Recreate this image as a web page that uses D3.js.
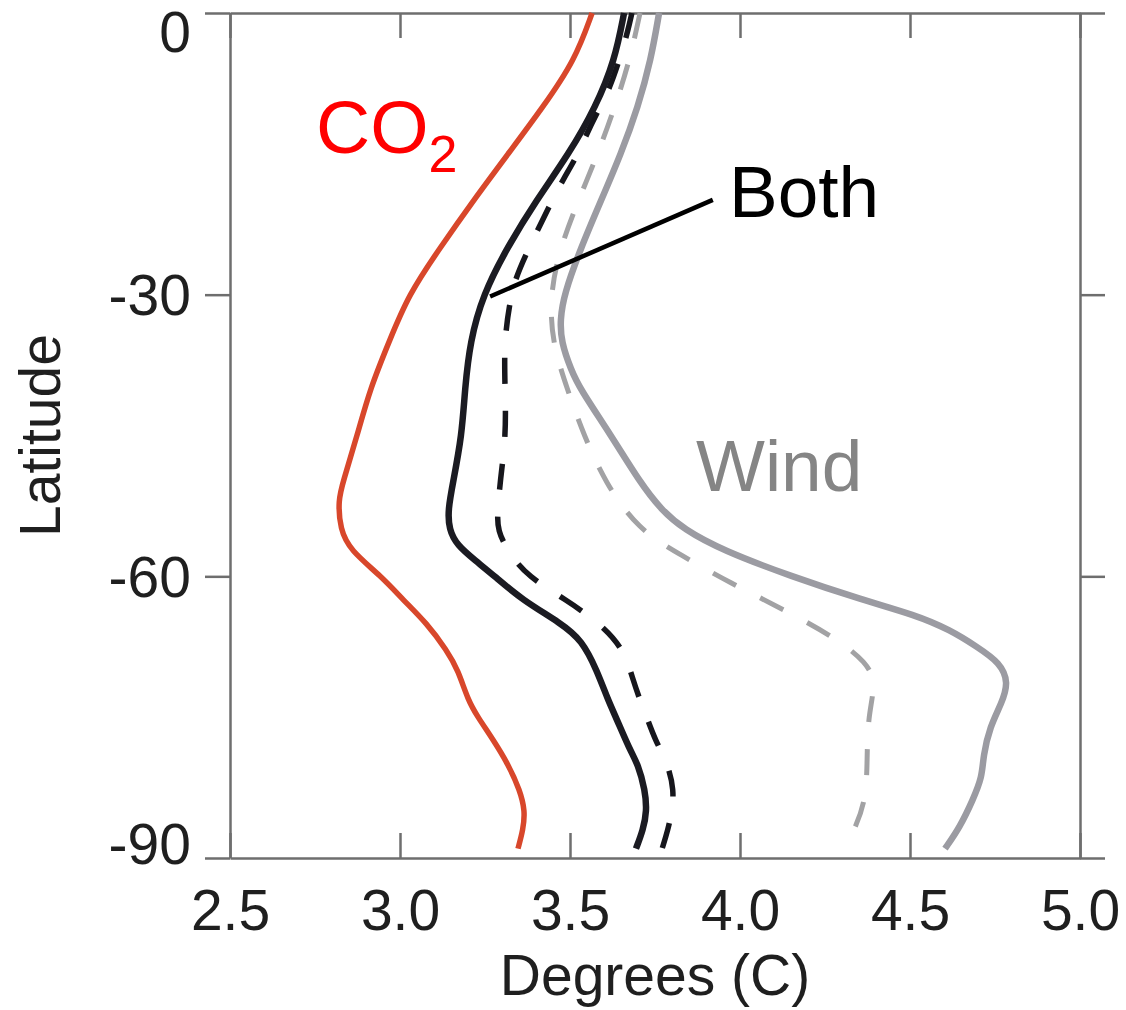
<!DOCTYPE html>
<html>
<head>
<meta charset="utf-8">
<script src="https://cdn.jsdelivr.net/npm/d3@7"></script>
<style>
  html, body { margin: 0; padding: 0; background: #ffffff; }
  svg { display: block; font-family: "Liberation Sans", Arial, Helvetica, sans-serif; }
</style>
</head>
<body>
<svg id="chart" width="1126" height="1010"></svg>
<script>
// Zonal-mean warming profiles (degrees C) against latitude.
const latTicks  = [0, -30, -60, -90];
const tempTicks = [2.5, 3.0, 3.5, 4.0, 4.5, 5.0];

// CO2 forcing only
const co2Lat  = [0, -5, -10, -15, -20, -25, -30, -35, -40, -45, -50, -51.9, -55, -57.2, -60, -62.5, -65, -67.9, -70, -73.2, -75, -77.4, -80, -82.8, -85, -87, -89];
const co2Temp = [3.565, 3.515, 3.421, 3.318, 3.215, 3.118, 3.025, 2.968, 2.912, 2.874, 2.832, 2.818, 2.824, 2.853, 2.945, 3.009, 3.079, 3.138, 3.171, 3.200, 3.229, 3.274, 3.318, 3.353, 3.368, 3.362, 3.347];

// Both forcings, solid and dashed runs
const bothLat  = [0, -5, -10, -15, -20, -25, -30, -35, -40, -45, -50, -52.9, -55, -56.7, -58.3, -60, -62.5, -65, -66.8, -70, -73.2, -75, -78.5, -80, -82.8, -85, -87, -89];
const bothTemp = [3.659, 3.632, 3.576, 3.497, 3.400, 3.315, 3.244, 3.206, 3.191, 3.182, 3.156, 3.141, 3.144, 3.168, 3.221, 3.279, 3.359, 3.474, 3.535, 3.579, 3.612, 3.635, 3.676, 3.700, 3.721, 3.726, 3.715, 3.694];

const bothAltLat  = [0, -1.8, -4.5, -8.2, -10, -13.5, -15, -17.8, -20, -25, -28.4, -30.6, -35, -40, -45, -50, -52.9, -55.1, -57.7, -60, -62.5, -65, -67.8, -71, -73.2, -75, -77.4, -80, -82.8, -85, -87, -89];
const bothAltTemp = [3.682, 3.671, 3.650, 3.615, 3.588, 3.541, 3.524, 3.479, 3.447, 3.379, 3.338, 3.324, 3.306, 3.309, 3.312, 3.294, 3.288, 3.285, 3.324, 3.376, 3.488, 3.588, 3.659, 3.685, 3.706, 3.726, 3.750, 3.788, 3.806, 3.800, 3.788, 3.771];

// Wind forcing only, solid and dashed runs
const windLat  = [0, -5, -10, -15, -20, -25, -30, -32.7, -35, -38, -40, -45, -50, -52.9, -55, -57.2, -60, -62.5, -64.1, -65.7, -67.5, -69.2, -71.3, -73.5, -76, -79.2, -81.4, -83.8, -86.7, -89];
const windTemp = [3.762, 3.738, 3.700, 3.650, 3.591, 3.532, 3.482, 3.471, 3.474, 3.503, 3.529, 3.621, 3.706, 3.768, 3.835, 3.947, 4.150, 4.359, 4.515, 4.618, 4.697, 4.765, 4.790, 4.770, 4.735, 4.715, 4.712, 4.685, 4.647, 4.603];

const windAltLat  = [0, -5, -10, -15, -20, -25, -30, -35, -40, -45, -50, -55, -57.7, -60.7, -63.6, -66.5, -69.2, -71.4, -75, -79.6, -83.6, -86.7, -89];
const windAltTemp = [3.706, 3.676, 3.632, 3.582, 3.524, 3.471, 3.441, 3.447, 3.491, 3.541, 3.603, 3.700, 3.824, 3.971, 4.132, 4.279, 4.374, 4.400, 4.376, 4.374, 4.371, 4.341, 4.306];

const svg = d3.select("#chart");
const plotLeft = 230, plotRight = 1080, plotTop = 13, plotBottom = 858;

const x = d3.scaleLinear().domain([2.5, 5.0]).range([plotLeft, plotRight]);
const y = d3.scaleLinear().domain([0, -90]).range([plotTop, plotBottom]);

const frameColor = "#6e6e6e";
const textColor = "#1f1f1f";

// plain hyphen-minus for negative latitudes
const latFormat = d => String(d);

// Axes: outward latitude ticks on both sides, inward temperature ticks top and bottom
const gLeft = svg.append("g").attr("transform", `translate(${plotLeft},0)`)
  .call(d3.axisLeft(y).tickValues(latTicks).tickSizeInner(25).tickSizeOuter(0).tickPadding(14).tickFormat(latFormat));
const gRight = svg.append("g").attr("transform", `translate(${plotRight},0)`)
  .call(d3.axisRight(y).tickValues(latTicks).tickSizeInner(25).tickSizeOuter(0).tickFormat(""));
const gBottom = svg.append("g").attr("transform", `translate(0,${plotBottom})`)
  .call(d3.axisBottom(x).tickValues(tempTicks).tickSizeInner(-25).tickSizeOuter(0).tickPadding(32).tickFormat(d3.format(".1f")));
const gTop = svg.append("g").attr("transform", `translate(0,${plotTop})`)
  .call(d3.axisTop(x).tickValues(tempTicks).tickSizeInner(-25).tickSizeOuter(0).tickFormat(""));

[gLeft, gRight, gBottom, gTop].forEach(g => {
  g.selectAll("path.domain").attr("stroke", frameColor).attr("stroke-width", 2.5);
  g.selectAll(".tick line").attr("stroke", frameColor).attr("stroke-width", 2.5);
  g.selectAll(".tick text").attr("fill", textColor).attr("font-size", 57)
    .attr("font-family", "'Liberation Sans', Arial, Helvetica, sans-serif");
});

// keep the end labels of the latitude axis inside the frame height
gLeft.selectAll(".tick text")
  .attr("dy", d => d === 0 ? "0.68em" : d === -90 ? "0.1em" : "0.35em");

// Axis titles
svg.append("text")
  .attr("x", (plotLeft + plotRight) / 2).attr("y", 995)
  .attr("text-anchor", "middle").attr("font-size", 57).attr("fill", textColor)
  .text("Degrees (C)");

svg.append("text")
  .attr("transform", `translate(60,${(plotTop + plotBottom) / 2}) rotate(-90)`)
  .attr("text-anchor", "middle").attr("font-size", 57).attr("fill", textColor)
  .text("Latitude");

// Profiles
const line = d3.line()
  .x(d => x(d[1]))
  .y(d => y(d[0]))
  .curve(d3.curveBasis);

const series = [
  { lat: windLat,    temp: windTemp,    color: "#9b9ba2", width: 6.5, dash: null },
  { lat: windAltLat, temp: windAltTemp, color: "#a2a2a4", width: 5,   dash: "26,27" },
  { lat: bothAltLat, temp: bothAltTemp, color: "#16161c", width: 5.5, dash: "26,27" },
  { lat: bothLat,    temp: bothTemp,    color: "#1b1b22", width: 6.5, dash: null },
  { lat: co2Lat,     temp: co2Temp,     color: "#d8472b", width: 5.5, dash: null }
];

series.forEach(s => {
  svg.append("path")
    .datum(d3.zip(s.lat, s.temp))
    .attr("d", line)
    .attr("fill", "none")
    .attr("stroke", s.color)
    .attr("stroke-width", s.width)
    .attr("stroke-linecap", "butt")
    .attr("stroke-linejoin", "round")
    .attr("stroke-dasharray", s.dash);
});

// Labels
const co2Label = svg.append("text")
  .attr("x", 316).attr("y", 153)
  .attr("font-size", 75).attr("fill", "#ff0000");
co2Label.append("tspan").text("CO");
co2Label.append("tspan").attr("dy", 19).attr("font-size", 52).text("2");

svg.append("line")
  .attr("x1", x(3.265)).attr("y1", y(-30.2))
  .attr("x2", x(3.92)).attr("y2", y(-19.9))
  .attr("stroke", "#000").attr("stroke-width", 4.5);

svg.append("text")
  .attr("x", 729).attr("y", 217)
  .attr("font-size", 73).attr("fill", "#000")
  .text("Both");

svg.append("text")
  .attr("x", 696).attr("y", 491)
  .attr("font-size", 73).attr("fill", "#858585")
  .text("Wind");
</script>
</body>
</html>
